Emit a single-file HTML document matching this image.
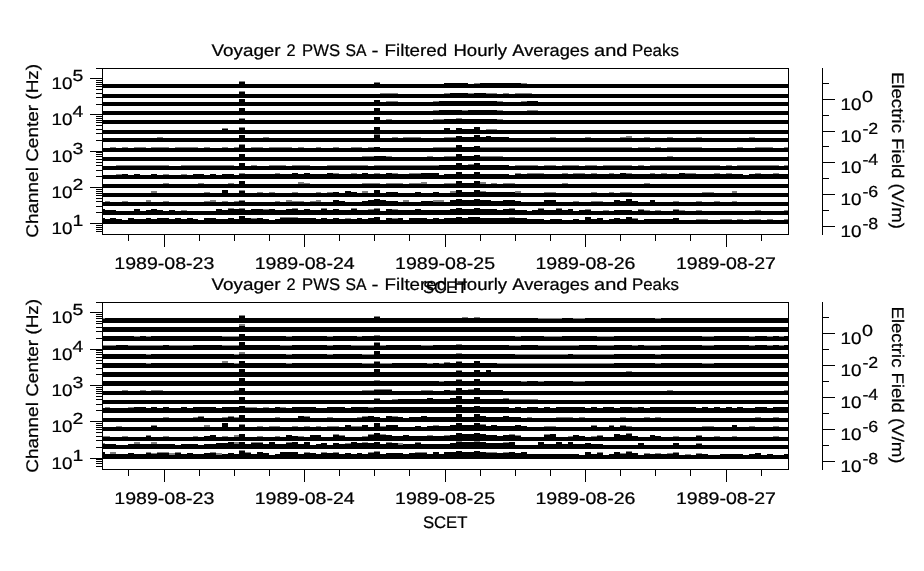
<!DOCTYPE html>
<html><head><meta charset="utf-8"><title>Voyager 2 PWS SA</title>
<style>
html,body{margin:0;padding:0;background:#fff;}
svg{display:block;font-family:"Liberation Sans",sans-serif;will-change:transform;}
text{fill:#000;stroke:#000;stroke-width:0.24px;}
</style></head>
<body>
<svg width="924" height="571" viewBox="0 0 924 571" shape-rendering="crispEdges" text-rendering="geometricPrecision">
<rect x="0" y="0" width="924" height="571" fill="#fff"/>
<rect x="96" y="68" width="693" height="1" fill="#000"/>
<rect x="102" y="234" width="687" height="1" fill="#000"/>
<rect x="102" y="68" width="1" height="167" fill="#000"/>
<rect x="788" y="68" width="1" height="167" fill="#000"/>
<rect x="90" y="223" width="12" height="1" fill="#000"/>
<rect x="90" y="187" width="12" height="1" fill="#000"/>
<rect x="90" y="151" width="12" height="1" fill="#000"/>
<rect x="90" y="114" width="12" height="1" fill="#000"/>
<rect x="90" y="78" width="12" height="1" fill="#000"/>
<rect x="96" y="231" width="6" height="1" fill="#000"/>
<rect x="96" y="229" width="6" height="1" fill="#000"/>
<rect x="96" y="227" width="6" height="1" fill="#000"/>
<rect x="96" y="225" width="6" height="1" fill="#000"/>
<rect x="96" y="212" width="6" height="1" fill="#000"/>
<rect x="96" y="206" width="6" height="1" fill="#000"/>
<rect x="96" y="201" width="6" height="1" fill="#000"/>
<rect x="96" y="198" width="6" height="1" fill="#000"/>
<rect x="96" y="195" width="6" height="1" fill="#000"/>
<rect x="96" y="193" width="6" height="1" fill="#000"/>
<rect x="96" y="191" width="6" height="1" fill="#000"/>
<rect x="96" y="189" width="6" height="1" fill="#000"/>
<rect x="96" y="176" width="6" height="1" fill="#000"/>
<rect x="96" y="170" width="6" height="1" fill="#000"/>
<rect x="96" y="165" width="6" height="1" fill="#000"/>
<rect x="96" y="162" width="6" height="1" fill="#000"/>
<rect x="96" y="159" width="6" height="1" fill="#000"/>
<rect x="96" y="156" width="6" height="1" fill="#000"/>
<rect x="96" y="154" width="6" height="1" fill="#000"/>
<rect x="96" y="152" width="6" height="1" fill="#000"/>
<rect x="96" y="140" width="6" height="1" fill="#000"/>
<rect x="96" y="133" width="6" height="1" fill="#000"/>
<rect x="96" y="129" width="6" height="1" fill="#000"/>
<rect x="96" y="125" width="6" height="1" fill="#000"/>
<rect x="96" y="122" width="6" height="1" fill="#000"/>
<rect x="96" y="120" width="6" height="1" fill="#000"/>
<rect x="96" y="118" width="6" height="1" fill="#000"/>
<rect x="96" y="116" width="6" height="1" fill="#000"/>
<rect x="96" y="104" width="6" height="1" fill="#000"/>
<rect x="96" y="97" width="6" height="1" fill="#000"/>
<rect x="96" y="93" width="6" height="1" fill="#000"/>
<rect x="96" y="89" width="6" height="1" fill="#000"/>
<rect x="96" y="86" width="6" height="1" fill="#000"/>
<rect x="96" y="84" width="6" height="1" fill="#000"/>
<rect x="96" y="82" width="6" height="1" fill="#000"/>
<rect x="96" y="80" width="6" height="1" fill="#000"/>
<rect x="128" y="234" width="1" height="7" fill="#000"/>
<rect x="164" y="234" width="1" height="13" fill="#000"/>
<rect x="199" y="234" width="1" height="7" fill="#000"/>
<rect x="234" y="234" width="1" height="7" fill="#000"/>
<rect x="269" y="234" width="1" height="7" fill="#000"/>
<rect x="304" y="234" width="1" height="13" fill="#000"/>
<rect x="339" y="234" width="1" height="7" fill="#000"/>
<rect x="374" y="234" width="1" height="7" fill="#000"/>
<rect x="409" y="234" width="1" height="7" fill="#000"/>
<rect x="445" y="234" width="1" height="13" fill="#000"/>
<rect x="480" y="234" width="1" height="7" fill="#000"/>
<rect x="515" y="234" width="1" height="7" fill="#000"/>
<rect x="550" y="234" width="1" height="7" fill="#000"/>
<rect x="585" y="234" width="1" height="13" fill="#000"/>
<rect x="620" y="234" width="1" height="7" fill="#000"/>
<rect x="655" y="234" width="1" height="7" fill="#000"/>
<rect x="690" y="234" width="1" height="7" fill="#000"/>
<rect x="726" y="234" width="1" height="13" fill="#000"/>
<rect x="761" y="234" width="1" height="7" fill="#000"/>
<rect x="103" y="84" width="685" height="4" fill="#000"/>
<rect x="103" y="94" width="685" height="4" fill="#000"/>
<rect x="103" y="102" width="685" height="4" fill="#000"/>
<rect x="103" y="111" width="685" height="4" fill="#000"/>
<rect x="103" y="120" width="685" height="4" fill="#000"/>
<rect x="103" y="130" width="685" height="4" fill="#000"/>
<rect x="103" y="138" width="685" height="4" fill="#000"/>
<rect x="103" y="148" width="685" height="4" fill="#000"/>
<rect x="103" y="157" width="685" height="4" fill="#000"/>
<rect x="103" y="166" width="685" height="4" fill="#000"/>
<rect x="103" y="175" width="685" height="4" fill="#000"/>
<rect x="103" y="184" width="685" height="4" fill="#000"/>
<rect x="103" y="193" width="685" height="4" fill="#000"/>
<rect x="103" y="202" width="685" height="4" fill="#000"/>
<rect x="103" y="211" width="685" height="4" fill="#000"/>
<rect x="103" y="220" width="685" height="4" fill="#000"/>
<rect x="239" y="81" width="6" height="1" fill="#808080"/>
<rect x="239" y="82" width="6" height="2" fill="#000"/>
<rect x="374" y="82" width="6" height="1" fill="#808080"/>
<rect x="374" y="83" width="6" height="1" fill="#000"/>
<rect x="444" y="83" width="24" height="1" fill="#000"/>
<rect x="474" y="83" width="6" height="1" fill="#808080"/>
<rect x="480" y="83" width="41" height="1" fill="#000"/>
<rect x="521" y="83" width="6" height="1" fill="#808080"/>
<rect x="239" y="91" width="6" height="1" fill="#808080"/>
<rect x="239" y="92" width="6" height="2" fill="#000"/>
<rect x="380" y="93" width="18" height="1" fill="#808080"/>
<rect x="444" y="93" width="6" height="1" fill="#808080"/>
<rect x="450" y="93" width="18" height="1" fill="#000"/>
<rect x="468" y="93" width="6" height="1" fill="#808080"/>
<rect x="474" y="93" width="12" height="1" fill="#000"/>
<rect x="486" y="93" width="11" height="1" fill="#808080"/>
<rect x="503" y="93" width="6" height="1" fill="#808080"/>
<rect x="515" y="93" width="17" height="1" fill="#808080"/>
<rect x="239" y="99" width="6" height="3" fill="#000"/>
<rect x="374" y="100" width="6" height="2" fill="#000"/>
<rect x="386" y="101" width="12" height="1" fill="#808080"/>
<rect x="433" y="101" width="6" height="1" fill="#808080"/>
<rect x="439" y="101" width="58" height="1" fill="#000"/>
<rect x="497" y="101" width="6" height="1" fill="#808080"/>
<rect x="521" y="101" width="6" height="1" fill="#808080"/>
<rect x="527" y="101" width="11" height="1" fill="#000"/>
<rect x="239" y="108" width="6" height="3" fill="#000"/>
<rect x="374" y="108" width="6" height="3" fill="#000"/>
<rect x="433" y="110" width="6" height="1" fill="#808080"/>
<rect x="439" y="110" width="23" height="1" fill="#000"/>
<rect x="462" y="110" width="6" height="1" fill="#808080"/>
<rect x="468" y="110" width="29" height="1" fill="#000"/>
<rect x="497" y="110" width="6" height="1" fill="#808080"/>
<rect x="527" y="110" width="11" height="1" fill="#808080"/>
<rect x="239" y="118" width="6" height="1" fill="#808080"/>
<rect x="239" y="119" width="6" height="1" fill="#000"/>
<rect x="374" y="117" width="6" height="3" fill="#000"/>
<rect x="386" y="119" width="6" height="1" fill="#808080"/>
<rect x="433" y="119" width="11" height="1" fill="#808080"/>
<rect x="444" y="119" width="12" height="1" fill="#000"/>
<rect x="456" y="118" width="6" height="1" fill="#808080"/>
<rect x="456" y="119" width="6" height="1" fill="#000"/>
<rect x="462" y="119" width="35" height="1" fill="#000"/>
<rect x="497" y="119" width="6" height="1" fill="#808080"/>
<rect x="222" y="128" width="6" height="1" fill="#808080"/>
<rect x="222" y="129" width="6" height="1" fill="#000"/>
<rect x="239" y="127" width="6" height="1" fill="#808080"/>
<rect x="239" y="128" width="6" height="2" fill="#000"/>
<rect x="374" y="127" width="6" height="3" fill="#000"/>
<rect x="444" y="128" width="6" height="2" fill="#000"/>
<rect x="456" y="128" width="6" height="2" fill="#000"/>
<rect x="462" y="129" width="12" height="1" fill="#000"/>
<rect x="474" y="127" width="6" height="3" fill="#000"/>
<rect x="486" y="129" width="11" height="1" fill="#808080"/>
<rect x="157" y="137" width="6" height="1" fill="#808080"/>
<rect x="239" y="135" width="6" height="3" fill="#000"/>
<rect x="263" y="137" width="6" height="1" fill="#808080"/>
<rect x="374" y="134" width="6" height="1" fill="#808080"/>
<rect x="374" y="135" width="6" height="3" fill="#000"/>
<rect x="392" y="137" width="6" height="1" fill="#808080"/>
<rect x="403" y="137" width="18" height="1" fill="#808080"/>
<rect x="444" y="137" width="12" height="1" fill="#808080"/>
<rect x="456" y="136" width="6" height="2" fill="#000"/>
<rect x="462" y="137" width="12" height="1" fill="#000"/>
<rect x="474" y="135" width="6" height="3" fill="#000"/>
<rect x="480" y="137" width="6" height="1" fill="#000"/>
<rect x="486" y="136" width="5" height="2" fill="#000"/>
<rect x="491" y="137" width="18" height="1" fill="#000"/>
<rect x="550" y="137" width="6" height="1" fill="#808080"/>
<rect x="585" y="137" width="6" height="1" fill="#808080"/>
<rect x="620" y="137" width="6" height="1" fill="#808080"/>
<rect x="626" y="136" width="6" height="2" fill="#808080"/>
<rect x="644" y="137" width="6" height="1" fill="#808080"/>
<rect x="667" y="137" width="6" height="1" fill="#808080"/>
<rect x="696" y="137" width="6" height="1" fill="#808080"/>
<rect x="749" y="137" width="6" height="1" fill="#808080"/>
<rect x="110" y="147" width="6" height="1" fill="#808080"/>
<rect x="122" y="147" width="6" height="1" fill="#808080"/>
<rect x="134" y="147" width="12" height="1" fill="#808080"/>
<rect x="151" y="147" width="18" height="1" fill="#808080"/>
<rect x="175" y="147" width="23" height="1" fill="#808080"/>
<rect x="204" y="147" width="6" height="1" fill="#808080"/>
<rect x="222" y="147" width="6" height="1" fill="#808080"/>
<rect x="234" y="147" width="5" height="1" fill="#808080"/>
<rect x="239" y="144" width="6" height="1" fill="#808080"/>
<rect x="239" y="145" width="6" height="3" fill="#000"/>
<rect x="251" y="147" width="12" height="1" fill="#808080"/>
<rect x="269" y="147" width="23" height="1" fill="#808080"/>
<rect x="298" y="147" width="6" height="1" fill="#808080"/>
<rect x="316" y="147" width="5" height="1" fill="#808080"/>
<rect x="333" y="147" width="6" height="1" fill="#808080"/>
<rect x="351" y="147" width="11" height="1" fill="#808080"/>
<rect x="368" y="147" width="6" height="1" fill="#808080"/>
<rect x="374" y="147" width="6" height="1" fill="#000"/>
<rect x="433" y="147" width="23" height="1" fill="#808080"/>
<rect x="456" y="145" width="6" height="3" fill="#000"/>
<rect x="462" y="147" width="12" height="1" fill="#000"/>
<rect x="474" y="146" width="6" height="2" fill="#000"/>
<rect x="480" y="147" width="152" height="1" fill="#808080"/>
<rect x="638" y="147" width="12" height="1" fill="#808080"/>
<rect x="655" y="147" width="6" height="1" fill="#808080"/>
<rect x="667" y="147" width="35" height="1" fill="#808080"/>
<rect x="737" y="147" width="6" height="1" fill="#808080"/>
<rect x="755" y="147" width="18" height="1" fill="#808080"/>
<rect x="784" y="147" width="4" height="1" fill="#808080"/>
<rect x="239" y="154" width="6" height="3" fill="#000"/>
<rect x="362" y="156" width="12" height="1" fill="#808080"/>
<rect x="374" y="156" width="12" height="1" fill="#000"/>
<rect x="386" y="156" width="6" height="1" fill="#808080"/>
<rect x="427" y="156" width="6" height="1" fill="#808080"/>
<rect x="444" y="156" width="12" height="1" fill="#808080"/>
<rect x="456" y="154" width="6" height="3" fill="#000"/>
<rect x="462" y="156" width="12" height="1" fill="#000"/>
<rect x="474" y="155" width="6" height="2" fill="#000"/>
<rect x="480" y="156" width="23" height="1" fill="#808080"/>
<rect x="667" y="156" width="6" height="1" fill="#808080"/>
<rect x="116" y="165" width="53" height="1" fill="#808080"/>
<rect x="181" y="165" width="53" height="1" fill="#808080"/>
<rect x="239" y="163" width="6" height="3" fill="#000"/>
<rect x="251" y="165" width="6" height="1" fill="#808080"/>
<rect x="269" y="165" width="17" height="1" fill="#808080"/>
<rect x="292" y="165" width="18" height="1" fill="#808080"/>
<rect x="327" y="165" width="41" height="1" fill="#808080"/>
<rect x="374" y="165" width="65" height="1" fill="#808080"/>
<rect x="439" y="165" width="17" height="1" fill="#000"/>
<rect x="456" y="163" width="6" height="3" fill="#000"/>
<rect x="462" y="165" width="6" height="1" fill="#000"/>
<rect x="468" y="164" width="6" height="1" fill="#808080"/>
<rect x="468" y="165" width="6" height="1" fill="#000"/>
<rect x="474" y="163" width="6" height="3" fill="#000"/>
<rect x="480" y="165" width="29" height="1" fill="#000"/>
<rect x="515" y="165" width="23" height="1" fill="#808080"/>
<rect x="544" y="165" width="12" height="1" fill="#808080"/>
<rect x="562" y="165" width="17" height="1" fill="#808080"/>
<rect x="585" y="165" width="12" height="1" fill="#808080"/>
<rect x="603" y="165" width="29" height="1" fill="#808080"/>
<rect x="638" y="165" width="6" height="1" fill="#808080"/>
<rect x="650" y="165" width="70" height="1" fill="#808080"/>
<rect x="726" y="165" width="6" height="1" fill="#808080"/>
<rect x="737" y="165" width="42" height="1" fill="#808080"/>
<rect x="784" y="165" width="4" height="1" fill="#808080"/>
<rect x="116" y="174" width="6" height="1" fill="#808080"/>
<rect x="122" y="174" width="6" height="1" fill="#000"/>
<rect x="134" y="174" width="6" height="1" fill="#000"/>
<rect x="151" y="174" width="6" height="1" fill="#000"/>
<rect x="163" y="174" width="6" height="1" fill="#808080"/>
<rect x="181" y="174" width="6" height="1" fill="#808080"/>
<rect x="193" y="174" width="11" height="1" fill="#000"/>
<rect x="210" y="174" width="6" height="1" fill="#000"/>
<rect x="222" y="174" width="12" height="1" fill="#000"/>
<rect x="239" y="173" width="6" height="1" fill="#808080"/>
<rect x="239" y="174" width="6" height="1" fill="#000"/>
<rect x="245" y="174" width="30" height="1" fill="#000"/>
<rect x="275" y="173" width="5" height="1" fill="#808080"/>
<rect x="275" y="174" width="5" height="1" fill="#000"/>
<rect x="280" y="174" width="12" height="1" fill="#000"/>
<rect x="292" y="173" width="6" height="2" fill="#000"/>
<rect x="298" y="174" width="6" height="1" fill="#000"/>
<rect x="304" y="173" width="6" height="2" fill="#000"/>
<rect x="310" y="174" width="17" height="1" fill="#000"/>
<rect x="327" y="173" width="6" height="2" fill="#000"/>
<rect x="333" y="173" width="6" height="1" fill="#808080"/>
<rect x="333" y="174" width="6" height="1" fill="#000"/>
<rect x="339" y="174" width="12" height="1" fill="#000"/>
<rect x="351" y="173" width="6" height="1" fill="#808080"/>
<rect x="351" y="174" width="6" height="1" fill="#000"/>
<rect x="357" y="174" width="5" height="1" fill="#000"/>
<rect x="362" y="173" width="6" height="2" fill="#000"/>
<rect x="368" y="174" width="6" height="1" fill="#000"/>
<rect x="374" y="173" width="6" height="1" fill="#808080"/>
<rect x="374" y="174" width="6" height="1" fill="#000"/>
<rect x="380" y="174" width="6" height="1" fill="#000"/>
<rect x="386" y="173" width="6" height="2" fill="#000"/>
<rect x="392" y="173" width="6" height="1" fill="#808080"/>
<rect x="392" y="174" width="6" height="1" fill="#000"/>
<rect x="398" y="174" width="11" height="1" fill="#000"/>
<rect x="409" y="173" width="12" height="1" fill="#808080"/>
<rect x="409" y="174" width="12" height="1" fill="#000"/>
<rect x="421" y="173" width="18" height="2" fill="#000"/>
<rect x="444" y="174" width="12" height="1" fill="#000"/>
<rect x="456" y="172" width="6" height="3" fill="#000"/>
<rect x="462" y="174" width="12" height="1" fill="#000"/>
<rect x="474" y="172" width="6" height="3" fill="#000"/>
<rect x="480" y="174" width="29" height="1" fill="#000"/>
<rect x="515" y="173" width="6" height="1" fill="#808080"/>
<rect x="515" y="174" width="6" height="1" fill="#000"/>
<rect x="521" y="174" width="6" height="1" fill="#000"/>
<rect x="527" y="173" width="17" height="1" fill="#808080"/>
<rect x="527" y="174" width="17" height="1" fill="#000"/>
<rect x="544" y="174" width="18" height="1" fill="#000"/>
<rect x="562" y="173" width="6" height="1" fill="#808080"/>
<rect x="562" y="174" width="6" height="1" fill="#000"/>
<rect x="568" y="174" width="5" height="1" fill="#000"/>
<rect x="573" y="173" width="12" height="1" fill="#808080"/>
<rect x="573" y="174" width="12" height="1" fill="#000"/>
<rect x="585" y="174" width="6" height="1" fill="#000"/>
<rect x="591" y="173" width="6" height="1" fill="#808080"/>
<rect x="591" y="174" width="6" height="1" fill="#000"/>
<rect x="597" y="174" width="12" height="1" fill="#000"/>
<rect x="609" y="173" width="5" height="1" fill="#808080"/>
<rect x="609" y="174" width="5" height="1" fill="#000"/>
<rect x="614" y="174" width="6" height="1" fill="#000"/>
<rect x="620" y="173" width="6" height="2" fill="#000"/>
<rect x="626" y="173" width="6" height="1" fill="#808080"/>
<rect x="626" y="174" width="6" height="1" fill="#000"/>
<rect x="632" y="174" width="18" height="1" fill="#000"/>
<rect x="650" y="173" width="5" height="1" fill="#808080"/>
<rect x="650" y="174" width="5" height="1" fill="#000"/>
<rect x="655" y="174" width="6" height="1" fill="#000"/>
<rect x="661" y="173" width="6" height="1" fill="#808080"/>
<rect x="661" y="174" width="6" height="1" fill="#000"/>
<rect x="667" y="174" width="12" height="1" fill="#000"/>
<rect x="679" y="173" width="6" height="2" fill="#000"/>
<rect x="685" y="173" width="11" height="1" fill="#808080"/>
<rect x="685" y="174" width="11" height="1" fill="#000"/>
<rect x="696" y="174" width="18" height="1" fill="#000"/>
<rect x="714" y="173" width="6" height="1" fill="#808080"/>
<rect x="714" y="174" width="6" height="1" fill="#000"/>
<rect x="720" y="174" width="6" height="1" fill="#000"/>
<rect x="726" y="173" width="6" height="1" fill="#808080"/>
<rect x="726" y="174" width="6" height="1" fill="#000"/>
<rect x="732" y="174" width="11" height="1" fill="#000"/>
<rect x="749" y="174" width="6" height="1" fill="#000"/>
<rect x="755" y="173" width="6" height="1" fill="#808080"/>
<rect x="755" y="174" width="6" height="1" fill="#000"/>
<rect x="761" y="174" width="12" height="1" fill="#000"/>
<rect x="773" y="173" width="6" height="1" fill="#808080"/>
<rect x="773" y="174" width="6" height="1" fill="#000"/>
<rect x="779" y="174" width="9" height="1" fill="#000"/>
<rect x="163" y="183" width="6" height="1" fill="#808080"/>
<rect x="198" y="183" width="6" height="1" fill="#808080"/>
<rect x="228" y="183" width="6" height="1" fill="#808080"/>
<rect x="239" y="181" width="6" height="3" fill="#000"/>
<rect x="298" y="182" width="6" height="2" fill="#808080"/>
<rect x="304" y="183" width="6" height="1" fill="#808080"/>
<rect x="362" y="183" width="18" height="1" fill="#808080"/>
<rect x="386" y="183" width="17" height="1" fill="#808080"/>
<rect x="409" y="183" width="12" height="1" fill="#808080"/>
<rect x="421" y="182" width="6" height="2" fill="#808080"/>
<rect x="444" y="183" width="12" height="1" fill="#808080"/>
<rect x="456" y="181" width="6" height="3" fill="#000"/>
<rect x="462" y="183" width="12" height="1" fill="#000"/>
<rect x="474" y="181" width="6" height="3" fill="#000"/>
<rect x="480" y="182" width="6" height="2" fill="#808080"/>
<rect x="491" y="183" width="6" height="1" fill="#808080"/>
<rect x="503" y="183" width="12" height="1" fill="#808080"/>
<rect x="562" y="183" width="6" height="1" fill="#808080"/>
<rect x="644" y="183" width="6" height="1" fill="#808080"/>
<rect x="151" y="191" width="6" height="2" fill="#808080"/>
<rect x="204" y="192" width="6" height="1" fill="#808080"/>
<rect x="222" y="190" width="6" height="3" fill="#000"/>
<rect x="239" y="190" width="6" height="1" fill="#808080"/>
<rect x="239" y="191" width="6" height="2" fill="#000"/>
<rect x="257" y="192" width="6" height="1" fill="#808080"/>
<rect x="269" y="192" width="6" height="1" fill="#808080"/>
<rect x="292" y="192" width="6" height="1" fill="#808080"/>
<rect x="316" y="192" width="5" height="1" fill="#808080"/>
<rect x="327" y="192" width="6" height="1" fill="#808080"/>
<rect x="333" y="192" width="6" height="1" fill="#000"/>
<rect x="345" y="191" width="6" height="2" fill="#000"/>
<rect x="351" y="192" width="6" height="1" fill="#000"/>
<rect x="362" y="191" width="6" height="2" fill="#808080"/>
<rect x="374" y="190" width="6" height="3" fill="#000"/>
<rect x="386" y="192" width="12" height="1" fill="#000"/>
<rect x="415" y="192" width="6" height="1" fill="#000"/>
<rect x="433" y="192" width="6" height="1" fill="#000"/>
<rect x="450" y="191" width="6" height="2" fill="#808080"/>
<rect x="456" y="190" width="6" height="3" fill="#000"/>
<rect x="462" y="192" width="12" height="1" fill="#000"/>
<rect x="474" y="190" width="6" height="3" fill="#000"/>
<rect x="480" y="191" width="6" height="1" fill="#808080"/>
<rect x="480" y="192" width="6" height="1" fill="#000"/>
<rect x="486" y="192" width="29" height="1" fill="#000"/>
<rect x="515" y="191" width="6" height="2" fill="#808080"/>
<rect x="544" y="192" width="12" height="1" fill="#808080"/>
<rect x="591" y="192" width="6" height="1" fill="#808080"/>
<rect x="609" y="192" width="5" height="1" fill="#808080"/>
<rect x="620" y="192" width="12" height="1" fill="#808080"/>
<rect x="702" y="192" width="12" height="1" fill="#808080"/>
<rect x="732" y="191" width="5" height="2" fill="#808080"/>
<rect x="105" y="201" width="5" height="1" fill="#808080"/>
<rect x="122" y="201" width="6" height="1" fill="#808080"/>
<rect x="146" y="200" width="5" height="2" fill="#808080"/>
<rect x="163" y="201" width="6" height="1" fill="#808080"/>
<rect x="204" y="201" width="6" height="1" fill="#808080"/>
<rect x="210" y="200" width="6" height="2" fill="#808080"/>
<rect x="222" y="201" width="6" height="1" fill="#808080"/>
<rect x="234" y="201" width="5" height="1" fill="#808080"/>
<rect x="239" y="200" width="6" height="1" fill="#808080"/>
<rect x="239" y="201" width="6" height="1" fill="#000"/>
<rect x="275" y="201" width="5" height="1" fill="#808080"/>
<rect x="286" y="200" width="6" height="2" fill="#808080"/>
<rect x="292" y="201" width="12" height="1" fill="#808080"/>
<rect x="310" y="201" width="6" height="1" fill="#808080"/>
<rect x="316" y="200" width="5" height="2" fill="#808080"/>
<rect x="333" y="200" width="6" height="2" fill="#000"/>
<rect x="339" y="201" width="6" height="1" fill="#000"/>
<rect x="362" y="201" width="6" height="1" fill="#000"/>
<rect x="368" y="200" width="6" height="2" fill="#000"/>
<rect x="374" y="199" width="6" height="3" fill="#000"/>
<rect x="380" y="200" width="6" height="2" fill="#000"/>
<rect x="386" y="201" width="12" height="1" fill="#000"/>
<rect x="403" y="200" width="6" height="2" fill="#808080"/>
<rect x="421" y="201" width="12" height="1" fill="#000"/>
<rect x="433" y="200" width="11" height="2" fill="#808080"/>
<rect x="450" y="200" width="6" height="2" fill="#000"/>
<rect x="456" y="199" width="6" height="3" fill="#000"/>
<rect x="462" y="200" width="12" height="2" fill="#000"/>
<rect x="474" y="199" width="6" height="3" fill="#000"/>
<rect x="480" y="200" width="11" height="2" fill="#000"/>
<rect x="491" y="201" width="12" height="1" fill="#000"/>
<rect x="503" y="200" width="12" height="2" fill="#000"/>
<rect x="515" y="201" width="6" height="1" fill="#000"/>
<rect x="544" y="200" width="12" height="2" fill="#000"/>
<rect x="573" y="201" width="6" height="1" fill="#808080"/>
<rect x="591" y="201" width="12" height="1" fill="#808080"/>
<rect x="614" y="200" width="6" height="2" fill="#000"/>
<rect x="620" y="201" width="6" height="1" fill="#000"/>
<rect x="626" y="199" width="6" height="3" fill="#000"/>
<rect x="632" y="201" width="6" height="1" fill="#000"/>
<rect x="650" y="200" width="5" height="2" fill="#000"/>
<rect x="673" y="201" width="6" height="1" fill="#808080"/>
<rect x="696" y="201" width="6" height="1" fill="#808080"/>
<rect x="714" y="201" width="6" height="1" fill="#808080"/>
<rect x="732" y="201" width="5" height="1" fill="#808080"/>
<rect x="103" y="209" width="2" height="2" fill="#000"/>
<rect x="105" y="210" width="11" height="1" fill="#000"/>
<rect x="134" y="209" width="6" height="2" fill="#000"/>
<rect x="146" y="210" width="5" height="1" fill="#000"/>
<rect x="151" y="209" width="6" height="2" fill="#000"/>
<rect x="157" y="210" width="6" height="1" fill="#000"/>
<rect x="169" y="210" width="6" height="1" fill="#000"/>
<rect x="181" y="210" width="6" height="1" fill="#808080"/>
<rect x="216" y="209" width="6" height="2" fill="#000"/>
<rect x="222" y="210" width="6" height="1" fill="#000"/>
<rect x="228" y="208" width="6" height="1" fill="#808080"/>
<rect x="228" y="209" width="6" height="2" fill="#000"/>
<rect x="234" y="209" width="5" height="2" fill="#000"/>
<rect x="239" y="208" width="6" height="1" fill="#808080"/>
<rect x="239" y="209" width="6" height="2" fill="#000"/>
<rect x="245" y="210" width="6" height="1" fill="#000"/>
<rect x="251" y="209" width="12" height="2" fill="#000"/>
<rect x="263" y="209" width="6" height="1" fill="#808080"/>
<rect x="263" y="210" width="6" height="1" fill="#000"/>
<rect x="269" y="209" width="6" height="2" fill="#000"/>
<rect x="275" y="210" width="11" height="1" fill="#000"/>
<rect x="286" y="209" width="6" height="2" fill="#000"/>
<rect x="292" y="208" width="6" height="1" fill="#808080"/>
<rect x="292" y="209" width="6" height="2" fill="#000"/>
<rect x="298" y="210" width="6" height="1" fill="#000"/>
<rect x="304" y="209" width="6" height="2" fill="#000"/>
<rect x="310" y="210" width="11" height="1" fill="#000"/>
<rect x="321" y="208" width="6" height="1" fill="#808080"/>
<rect x="321" y="209" width="6" height="2" fill="#000"/>
<rect x="327" y="210" width="6" height="1" fill="#000"/>
<rect x="333" y="209" width="6" height="2" fill="#000"/>
<rect x="339" y="210" width="12" height="1" fill="#000"/>
<rect x="351" y="208" width="6" height="1" fill="#808080"/>
<rect x="351" y="209" width="6" height="2" fill="#000"/>
<rect x="357" y="210" width="11" height="1" fill="#000"/>
<rect x="368" y="209" width="6" height="1" fill="#808080"/>
<rect x="368" y="210" width="6" height="1" fill="#000"/>
<rect x="374" y="208" width="6" height="1" fill="#808080"/>
<rect x="374" y="209" width="6" height="2" fill="#000"/>
<rect x="386" y="209" width="6" height="2" fill="#000"/>
<rect x="392" y="209" width="6" height="1" fill="#808080"/>
<rect x="392" y="210" width="6" height="1" fill="#000"/>
<rect x="398" y="210" width="17" height="1" fill="#000"/>
<rect x="415" y="209" width="6" height="2" fill="#000"/>
<rect x="421" y="210" width="29" height="1" fill="#000"/>
<rect x="450" y="209" width="6" height="2" fill="#000"/>
<rect x="456" y="208" width="6" height="3" fill="#000"/>
<rect x="462" y="209" width="12" height="2" fill="#000"/>
<rect x="474" y="208" width="6" height="3" fill="#000"/>
<rect x="480" y="209" width="17" height="2" fill="#000"/>
<rect x="497" y="210" width="6" height="1" fill="#000"/>
<rect x="503" y="209" width="6" height="2" fill="#000"/>
<rect x="509" y="208" width="6" height="1" fill="#808080"/>
<rect x="509" y="209" width="6" height="2" fill="#000"/>
<rect x="515" y="210" width="12" height="1" fill="#000"/>
<rect x="532" y="210" width="6" height="1" fill="#000"/>
<rect x="538" y="208" width="6" height="1" fill="#808080"/>
<rect x="538" y="209" width="6" height="2" fill="#000"/>
<rect x="544" y="210" width="12" height="1" fill="#000"/>
<rect x="556" y="208" width="6" height="1" fill="#808080"/>
<rect x="556" y="209" width="6" height="2" fill="#000"/>
<rect x="562" y="210" width="6" height="1" fill="#000"/>
<rect x="568" y="209" width="5" height="2" fill="#000"/>
<rect x="579" y="210" width="6" height="1" fill="#000"/>
<rect x="585" y="209" width="6" height="1" fill="#808080"/>
<rect x="585" y="210" width="6" height="1" fill="#000"/>
<rect x="603" y="210" width="6" height="1" fill="#808080"/>
<rect x="614" y="210" width="18" height="1" fill="#000"/>
<rect x="638" y="209" width="6" height="1" fill="#808080"/>
<rect x="638" y="210" width="6" height="1" fill="#000"/>
<rect x="644" y="210" width="6" height="1" fill="#808080"/>
<rect x="655" y="210" width="6" height="1" fill="#808080"/>
<rect x="673" y="209" width="6" height="1" fill="#808080"/>
<rect x="673" y="210" width="6" height="1" fill="#000"/>
<rect x="679" y="210" width="6" height="1" fill="#808080"/>
<rect x="696" y="210" width="6" height="1" fill="#808080"/>
<rect x="755" y="210" width="6" height="1" fill="#808080"/>
<rect x="784" y="210" width="4" height="1" fill="#808080"/>
<rect x="103" y="218" width="2" height="2" fill="#000"/>
<rect x="105" y="219" width="5" height="1" fill="#000"/>
<rect x="110" y="218" width="6" height="2" fill="#000"/>
<rect x="116" y="219" width="6" height="1" fill="#000"/>
<rect x="128" y="218" width="6" height="2" fill="#000"/>
<rect x="134" y="219" width="12" height="1" fill="#000"/>
<rect x="146" y="218" width="5" height="2" fill="#000"/>
<rect x="151" y="219" width="6" height="1" fill="#000"/>
<rect x="157" y="218" width="12" height="2" fill="#000"/>
<rect x="169" y="219" width="6" height="1" fill="#000"/>
<rect x="175" y="218" width="6" height="2" fill="#000"/>
<rect x="181" y="219" width="6" height="1" fill="#000"/>
<rect x="187" y="218" width="6" height="2" fill="#000"/>
<rect x="193" y="219" width="5" height="1" fill="#000"/>
<rect x="204" y="218" width="12" height="2" fill="#000"/>
<rect x="216" y="219" width="12" height="1" fill="#000"/>
<rect x="228" y="218" width="6" height="2" fill="#000"/>
<rect x="234" y="219" width="5" height="1" fill="#000"/>
<rect x="239" y="216" width="6" height="4" fill="#000"/>
<rect x="245" y="218" width="6" height="2" fill="#000"/>
<rect x="251" y="218" width="6" height="1" fill="#808080"/>
<rect x="251" y="219" width="6" height="1" fill="#000"/>
<rect x="257" y="218" width="6" height="2" fill="#000"/>
<rect x="263" y="219" width="6" height="1" fill="#000"/>
<rect x="275" y="219" width="5" height="1" fill="#000"/>
<rect x="280" y="217" width="18" height="1" fill="#808080"/>
<rect x="280" y="218" width="18" height="2" fill="#000"/>
<rect x="298" y="218" width="18" height="2" fill="#000"/>
<rect x="316" y="219" width="5" height="1" fill="#000"/>
<rect x="321" y="218" width="6" height="2" fill="#000"/>
<rect x="327" y="219" width="6" height="1" fill="#000"/>
<rect x="333" y="218" width="6" height="2" fill="#000"/>
<rect x="339" y="219" width="6" height="1" fill="#000"/>
<rect x="345" y="218" width="6" height="1" fill="#808080"/>
<rect x="345" y="219" width="6" height="1" fill="#000"/>
<rect x="351" y="219" width="6" height="1" fill="#000"/>
<rect x="357" y="218" width="5" height="2" fill="#000"/>
<rect x="362" y="219" width="6" height="1" fill="#000"/>
<rect x="368" y="218" width="6" height="2" fill="#000"/>
<rect x="374" y="217" width="6" height="3" fill="#000"/>
<rect x="386" y="218" width="6" height="2" fill="#000"/>
<rect x="392" y="218" width="6" height="1" fill="#808080"/>
<rect x="392" y="219" width="6" height="1" fill="#000"/>
<rect x="398" y="218" width="5" height="2" fill="#000"/>
<rect x="409" y="218" width="18" height="2" fill="#000"/>
<rect x="427" y="219" width="6" height="1" fill="#000"/>
<rect x="433" y="218" width="6" height="2" fill="#000"/>
<rect x="439" y="219" width="5" height="1" fill="#000"/>
<rect x="444" y="218" width="12" height="2" fill="#000"/>
<rect x="456" y="217" width="6" height="3" fill="#000"/>
<rect x="462" y="218" width="6" height="2" fill="#000"/>
<rect x="468" y="217" width="12" height="3" fill="#000"/>
<rect x="480" y="218" width="29" height="2" fill="#000"/>
<rect x="509" y="217" width="6" height="1" fill="#808080"/>
<rect x="509" y="218" width="6" height="2" fill="#000"/>
<rect x="515" y="218" width="12" height="2" fill="#000"/>
<rect x="527" y="219" width="17" height="1" fill="#000"/>
<rect x="550" y="219" width="12" height="1" fill="#000"/>
<rect x="573" y="219" width="6" height="1" fill="#000"/>
<rect x="585" y="217" width="6" height="3" fill="#000"/>
<rect x="591" y="219" width="6" height="1" fill="#000"/>
<rect x="597" y="218" width="6" height="2" fill="#000"/>
<rect x="609" y="219" width="5" height="1" fill="#000"/>
<rect x="614" y="218" width="6" height="2" fill="#000"/>
<rect x="620" y="219" width="6" height="1" fill="#000"/>
<rect x="626" y="217" width="6" height="3" fill="#000"/>
<rect x="632" y="218" width="6" height="1" fill="#808080"/>
<rect x="632" y="219" width="6" height="1" fill="#000"/>
<rect x="644" y="219" width="29" height="1" fill="#000"/>
<rect x="673" y="218" width="6" height="2" fill="#000"/>
<rect x="696" y="219" width="12" height="1" fill="#808080"/>
<rect x="720" y="219" width="12" height="1" fill="#808080"/>
<rect x="737" y="219" width="6" height="1" fill="#808080"/>
<rect x="749" y="219" width="12" height="1" fill="#808080"/>
<rect x="767" y="219" width="6" height="1" fill="#808080"/>
<rect x="784" y="219" width="4" height="1" fill="#808080"/>
<rect x="822" y="68" width="1" height="167" fill="#000"/>
<rect x="822" y="99" width="13" height="1" fill="#000"/>
<rect x="822" y="131" width="13" height="1" fill="#000"/>
<rect x="822" y="162" width="13" height="1" fill="#000"/>
<rect x="822" y="194" width="13" height="1" fill="#000"/>
<rect x="822" y="226" width="13" height="1" fill="#000"/>
<rect x="822" y="83" width="7" height="1" fill="#000"/>
<rect x="822" y="115" width="7" height="1" fill="#000"/>
<rect x="822" y="146" width="7" height="1" fill="#000"/>
<rect x="822" y="178" width="7" height="1" fill="#000"/>
<rect x="822" y="210" width="7" height="1" fill="#000"/>
<text x="211.5" y="55.8" font-size="16.8" textLength="69.1" lengthAdjust="spacingAndGlyphs">Voyager</text>
<text x="286.4" y="55.8" font-size="16.8" textLength="9.1" lengthAdjust="spacingAndGlyphs">2</text>
<text x="302.1" y="55.8" font-size="16.8" textLength="38.0" lengthAdjust="spacingAndGlyphs">PWS</text>
<text x="345.4" y="55.8" font-size="16.8" textLength="21.0" lengthAdjust="spacingAndGlyphs">SA</text>
<text x="371.6" y="55.8" font-size="16.8" textLength="7.0" lengthAdjust="spacingAndGlyphs">-</text>
<text x="384.6" y="55.8" font-size="16.8" textLength="62.6" lengthAdjust="spacingAndGlyphs">Filtered</text>
<text x="453.4" y="55.8" font-size="16.8" textLength="53.7" lengthAdjust="spacingAndGlyphs">Hourly</text>
<text x="512.3" y="55.8" font-size="16.8" textLength="76.8" lengthAdjust="spacingAndGlyphs">Averages</text>
<text x="594.1" y="55.8" font-size="16.8" textLength="33.4" lengthAdjust="spacingAndGlyphs">and</text>
<text x="631.9" y="55.8" font-size="16.8" textLength="47.0" lengthAdjust="spacingAndGlyphs">Peaks</text>
<text x="51.6" y="233.7" font-size="16.8" textLength="21" lengthAdjust="spacingAndGlyphs">10</text>
<text x="72.4" y="225.6" font-size="16.0" textLength="10.8" lengthAdjust="spacingAndGlyphs">1</text>
<text x="51.6" y="197.7" font-size="16.8" textLength="21" lengthAdjust="spacingAndGlyphs">10</text>
<text x="72.4" y="189.6" font-size="16.0" textLength="10.8" lengthAdjust="spacingAndGlyphs">2</text>
<text x="51.6" y="161.7" font-size="16.8" textLength="21" lengthAdjust="spacingAndGlyphs">10</text>
<text x="72.4" y="153.6" font-size="16.0" textLength="10.8" lengthAdjust="spacingAndGlyphs">3</text>
<text x="51.6" y="124.7" font-size="16.8" textLength="21" lengthAdjust="spacingAndGlyphs">10</text>
<text x="72.4" y="116.6" font-size="16.0" textLength="10.8" lengthAdjust="spacingAndGlyphs">4</text>
<text x="51.6" y="88.7" font-size="16.8" textLength="21" lengthAdjust="spacingAndGlyphs">10</text>
<text x="72.4" y="80.6" font-size="16.0" textLength="10.8" lengthAdjust="spacingAndGlyphs">5</text>
<text x="114.3" y="269" font-size="16.8" textLength="100" lengthAdjust="spacingAndGlyphs">1989-08-23</text>
<text x="254.7" y="269" font-size="16.8" textLength="100" lengthAdjust="spacingAndGlyphs">1989-08-24</text>
<text x="395.1" y="269" font-size="16.8" textLength="100" lengthAdjust="spacingAndGlyphs">1989-08-25</text>
<text x="535.5" y="269" font-size="16.8" textLength="100" lengthAdjust="spacingAndGlyphs">1989-08-26</text>
<text x="675.9" y="269" font-size="16.8" textLength="100" lengthAdjust="spacingAndGlyphs">1989-08-27</text>
<text x="422.9" y="292.7" font-size="16.8" textLength="44.6" lengthAdjust="spacingAndGlyphs">SCET</text>
<text x="840.5" y="109.6" font-size="16.8" textLength="21" lengthAdjust="spacingAndGlyphs">10</text>
<text x="862.0" y="101.6" font-size="16.0" textLength="11" lengthAdjust="spacingAndGlyphs">0</text>
<text x="840.5" y="141.6" font-size="16.8" textLength="21" lengthAdjust="spacingAndGlyphs">10</text>
<text x="862.4" y="133.6" font-size="16.0" textLength="15.8" lengthAdjust="spacingAndGlyphs">-2</text>
<text x="840.5" y="172.6" font-size="16.8" textLength="21" lengthAdjust="spacingAndGlyphs">10</text>
<text x="862.4" y="164.6" font-size="16.0" textLength="15.8" lengthAdjust="spacingAndGlyphs">-4</text>
<text x="840.5" y="204.6" font-size="16.8" textLength="21" lengthAdjust="spacingAndGlyphs">10</text>
<text x="862.4" y="196.6" font-size="16.0" textLength="15.8" lengthAdjust="spacingAndGlyphs">-6</text>
<text x="840.5" y="236.6" font-size="16.8" textLength="21" lengthAdjust="spacingAndGlyphs">10</text>
<text x="862.4" y="228.6" font-size="16.0" textLength="15.8" lengthAdjust="spacingAndGlyphs">-8</text>
<text x="38.1" y="237.8" font-size="16.8" textLength="174" lengthAdjust="spacingAndGlyphs" transform="rotate(-90 38.1 237.8)">Channel Center (Hz)</text>
<text x="892.4" y="72.0" font-size="16.8" textLength="157" lengthAdjust="spacingAndGlyphs" transform="rotate(90 892.4 72.0)">Electric Field (V/m)</text>
<rect x="96" y="302" width="693" height="1" fill="#000"/>
<rect x="102" y="469" width="687" height="1" fill="#000"/>
<rect x="102" y="302" width="1" height="168" fill="#000"/>
<rect x="788" y="302" width="1" height="168" fill="#000"/>
<rect x="90" y="458" width="12" height="1" fill="#000"/>
<rect x="90" y="421" width="12" height="1" fill="#000"/>
<rect x="90" y="385" width="12" height="1" fill="#000"/>
<rect x="90" y="349" width="12" height="1" fill="#000"/>
<rect x="90" y="312" width="12" height="1" fill="#000"/>
<rect x="96" y="466" width="6" height="1" fill="#000"/>
<rect x="96" y="463" width="6" height="1" fill="#000"/>
<rect x="96" y="461" width="6" height="1" fill="#000"/>
<rect x="96" y="459" width="6" height="1" fill="#000"/>
<rect x="96" y="447" width="6" height="1" fill="#000"/>
<rect x="96" y="440" width="6" height="1" fill="#000"/>
<rect x="96" y="436" width="6" height="1" fill="#000"/>
<rect x="96" y="432" width="6" height="1" fill="#000"/>
<rect x="96" y="429" width="6" height="1" fill="#000"/>
<rect x="96" y="427" width="6" height="1" fill="#000"/>
<rect x="96" y="425" width="6" height="1" fill="#000"/>
<rect x="96" y="423" width="6" height="1" fill="#000"/>
<rect x="96" y="410" width="6" height="1" fill="#000"/>
<rect x="96" y="404" width="6" height="1" fill="#000"/>
<rect x="96" y="399" width="6" height="1" fill="#000"/>
<rect x="96" y="396" width="6" height="1" fill="#000"/>
<rect x="96" y="393" width="6" height="1" fill="#000"/>
<rect x="96" y="391" width="6" height="1" fill="#000"/>
<rect x="96" y="389" width="6" height="1" fill="#000"/>
<rect x="96" y="387" width="6" height="1" fill="#000"/>
<rect x="96" y="374" width="6" height="1" fill="#000"/>
<rect x="96" y="368" width="6" height="1" fill="#000"/>
<rect x="96" y="363" width="6" height="1" fill="#000"/>
<rect x="96" y="360" width="6" height="1" fill="#000"/>
<rect x="96" y="357" width="6" height="1" fill="#000"/>
<rect x="96" y="354" width="6" height="1" fill="#000"/>
<rect x="96" y="352" width="6" height="1" fill="#000"/>
<rect x="96" y="350" width="6" height="1" fill="#000"/>
<rect x="96" y="338" width="6" height="1" fill="#000"/>
<rect x="96" y="331" width="6" height="1" fill="#000"/>
<rect x="96" y="327" width="6" height="1" fill="#000"/>
<rect x="96" y="323" width="6" height="1" fill="#000"/>
<rect x="96" y="321" width="6" height="1" fill="#000"/>
<rect x="96" y="318" width="6" height="1" fill="#000"/>
<rect x="96" y="316" width="6" height="1" fill="#000"/>
<rect x="96" y="314" width="6" height="1" fill="#000"/>
<rect x="128" y="469" width="1" height="7" fill="#000"/>
<rect x="164" y="469" width="1" height="13" fill="#000"/>
<rect x="199" y="469" width="1" height="7" fill="#000"/>
<rect x="234" y="469" width="1" height="7" fill="#000"/>
<rect x="269" y="469" width="1" height="7" fill="#000"/>
<rect x="304" y="469" width="1" height="13" fill="#000"/>
<rect x="339" y="469" width="1" height="7" fill="#000"/>
<rect x="374" y="469" width="1" height="7" fill="#000"/>
<rect x="409" y="469" width="1" height="7" fill="#000"/>
<rect x="445" y="469" width="1" height="13" fill="#000"/>
<rect x="480" y="469" width="1" height="7" fill="#000"/>
<rect x="515" y="469" width="1" height="7" fill="#000"/>
<rect x="550" y="469" width="1" height="7" fill="#000"/>
<rect x="585" y="469" width="1" height="13" fill="#000"/>
<rect x="620" y="469" width="1" height="7" fill="#000"/>
<rect x="655" y="469" width="1" height="7" fill="#000"/>
<rect x="690" y="469" width="1" height="7" fill="#000"/>
<rect x="726" y="469" width="1" height="13" fill="#000"/>
<rect x="761" y="469" width="1" height="7" fill="#000"/>
<rect x="103" y="319" width="685" height="4" fill="#000"/>
<rect x="103" y="328" width="685" height="4" fill="#000"/>
<rect x="103" y="337" width="685" height="4" fill="#000"/>
<rect x="103" y="346" width="685" height="4" fill="#000"/>
<rect x="103" y="355" width="685" height="4" fill="#000"/>
<rect x="103" y="364" width="685" height="4" fill="#000"/>
<rect x="103" y="373" width="685" height="4" fill="#000"/>
<rect x="103" y="382" width="685" height="4" fill="#000"/>
<rect x="103" y="391" width="685" height="4" fill="#000"/>
<rect x="103" y="400" width="685" height="4" fill="#000"/>
<rect x="103" y="409" width="685" height="4" fill="#000"/>
<rect x="103" y="418" width="685" height="4" fill="#000"/>
<rect x="103" y="427" width="685" height="4" fill="#000"/>
<rect x="103" y="437" width="685" height="4" fill="#000"/>
<rect x="103" y="445" width="685" height="4" fill="#000"/>
<rect x="103" y="455" width="685" height="4" fill="#000"/>
<rect x="103" y="318" width="2" height="1" fill="#808080"/>
<rect x="105" y="318" width="134" height="1" fill="#000"/>
<rect x="239" y="315" width="6" height="1" fill="#808080"/>
<rect x="239" y="316" width="6" height="3" fill="#000"/>
<rect x="245" y="318" width="129" height="1" fill="#000"/>
<rect x="374" y="316" width="6" height="1" fill="#808080"/>
<rect x="374" y="317" width="6" height="2" fill="#000"/>
<rect x="380" y="318" width="82" height="1" fill="#000"/>
<rect x="462" y="317" width="6" height="1" fill="#808080"/>
<rect x="462" y="318" width="6" height="1" fill="#000"/>
<rect x="468" y="318" width="6" height="1" fill="#000"/>
<rect x="474" y="317" width="6" height="1" fill="#808080"/>
<rect x="474" y="318" width="6" height="1" fill="#000"/>
<rect x="480" y="318" width="58" height="1" fill="#000"/>
<rect x="538" y="318" width="24" height="1" fill="#808080"/>
<rect x="562" y="318" width="11" height="1" fill="#000"/>
<rect x="573" y="318" width="12" height="1" fill="#808080"/>
<rect x="585" y="318" width="70" height="1" fill="#000"/>
<rect x="655" y="318" width="6" height="1" fill="#808080"/>
<rect x="661" y="318" width="127" height="1" fill="#000"/>
<rect x="103" y="327" width="136" height="1" fill="#000"/>
<rect x="239" y="324" width="6" height="2" fill="#808080"/>
<rect x="239" y="326" width="6" height="2" fill="#000"/>
<rect x="245" y="327" width="543" height="1" fill="#000"/>
<rect x="103" y="336" width="31" height="1" fill="#000"/>
<rect x="134" y="336" width="6" height="1" fill="#808080"/>
<rect x="140" y="336" width="6" height="1" fill="#000"/>
<rect x="146" y="336" width="5" height="1" fill="#808080"/>
<rect x="151" y="336" width="71" height="1" fill="#000"/>
<rect x="222" y="336" width="17" height="1" fill="#808080"/>
<rect x="239" y="334" width="6" height="3" fill="#000"/>
<rect x="245" y="336" width="41" height="1" fill="#000"/>
<rect x="286" y="336" width="6" height="1" fill="#808080"/>
<rect x="292" y="336" width="35" height="1" fill="#000"/>
<rect x="327" y="336" width="6" height="1" fill="#808080"/>
<rect x="333" y="336" width="24" height="1" fill="#000"/>
<rect x="357" y="336" width="5" height="1" fill="#808080"/>
<rect x="362" y="336" width="12" height="1" fill="#000"/>
<rect x="374" y="335" width="6" height="1" fill="#808080"/>
<rect x="374" y="336" width="6" height="1" fill="#000"/>
<rect x="380" y="336" width="135" height="1" fill="#000"/>
<rect x="515" y="336" width="6" height="1" fill="#808080"/>
<rect x="521" y="336" width="23" height="1" fill="#000"/>
<rect x="544" y="336" width="18" height="1" fill="#808080"/>
<rect x="562" y="336" width="35" height="1" fill="#000"/>
<rect x="597" y="336" width="17" height="1" fill="#808080"/>
<rect x="614" y="336" width="88" height="1" fill="#000"/>
<rect x="702" y="336" width="12" height="1" fill="#808080"/>
<rect x="714" y="336" width="35" height="1" fill="#000"/>
<rect x="749" y="336" width="6" height="1" fill="#808080"/>
<rect x="755" y="336" width="12" height="1" fill="#000"/>
<rect x="767" y="336" width="6" height="1" fill="#808080"/>
<rect x="773" y="336" width="6" height="1" fill="#000"/>
<rect x="779" y="336" width="5" height="1" fill="#808080"/>
<rect x="784" y="336" width="4" height="1" fill="#000"/>
<rect x="103" y="345" width="13" height="1" fill="#808080"/>
<rect x="116" y="345" width="12" height="1" fill="#000"/>
<rect x="128" y="345" width="35" height="1" fill="#808080"/>
<rect x="163" y="345" width="6" height="1" fill="#000"/>
<rect x="169" y="345" width="24" height="1" fill="#808080"/>
<rect x="193" y="345" width="29" height="1" fill="#000"/>
<rect x="222" y="345" width="17" height="1" fill="#808080"/>
<rect x="239" y="342" width="6" height="4" fill="#000"/>
<rect x="245" y="345" width="35" height="1" fill="#000"/>
<rect x="280" y="345" width="12" height="1" fill="#808080"/>
<rect x="292" y="345" width="35" height="1" fill="#000"/>
<rect x="327" y="345" width="6" height="1" fill="#808080"/>
<rect x="333" y="345" width="18" height="1" fill="#000"/>
<rect x="351" y="345" width="23" height="1" fill="#808080"/>
<rect x="374" y="342" width="6" height="1" fill="#808080"/>
<rect x="374" y="343" width="6" height="3" fill="#000"/>
<rect x="380" y="345" width="6" height="1" fill="#808080"/>
<rect x="386" y="345" width="35" height="1" fill="#000"/>
<rect x="421" y="345" width="12" height="1" fill="#808080"/>
<rect x="433" y="345" width="23" height="1" fill="#000"/>
<rect x="456" y="344" width="6" height="1" fill="#808080"/>
<rect x="456" y="345" width="6" height="1" fill="#000"/>
<rect x="462" y="345" width="47" height="1" fill="#000"/>
<rect x="509" y="345" width="12" height="1" fill="#808080"/>
<rect x="521" y="345" width="17" height="1" fill="#000"/>
<rect x="538" y="345" width="41" height="1" fill="#808080"/>
<rect x="579" y="345" width="18" height="1" fill="#000"/>
<rect x="597" y="345" width="17" height="1" fill="#808080"/>
<rect x="614" y="345" width="18" height="1" fill="#000"/>
<rect x="632" y="345" width="6" height="1" fill="#808080"/>
<rect x="638" y="345" width="6" height="1" fill="#000"/>
<rect x="644" y="345" width="17" height="1" fill="#808080"/>
<rect x="661" y="345" width="41" height="1" fill="#000"/>
<rect x="702" y="345" width="12" height="1" fill="#808080"/>
<rect x="714" y="345" width="35" height="1" fill="#000"/>
<rect x="749" y="345" width="6" height="1" fill="#808080"/>
<rect x="755" y="345" width="12" height="1" fill="#000"/>
<rect x="767" y="345" width="6" height="1" fill="#808080"/>
<rect x="773" y="345" width="6" height="1" fill="#000"/>
<rect x="779" y="345" width="5" height="1" fill="#808080"/>
<rect x="784" y="345" width="4" height="1" fill="#000"/>
<rect x="103" y="354" width="43" height="1" fill="#000"/>
<rect x="146" y="354" width="5" height="1" fill="#808080"/>
<rect x="151" y="354" width="83" height="1" fill="#000"/>
<rect x="234" y="354" width="5" height="1" fill="#808080"/>
<rect x="239" y="352" width="6" height="2" fill="#808080"/>
<rect x="239" y="354" width="6" height="1" fill="#000"/>
<rect x="245" y="354" width="41" height="1" fill="#000"/>
<rect x="286" y="354" width="6" height="1" fill="#808080"/>
<rect x="292" y="354" width="35" height="1" fill="#000"/>
<rect x="327" y="354" width="6" height="1" fill="#808080"/>
<rect x="333" y="354" width="29" height="1" fill="#000"/>
<rect x="362" y="354" width="12" height="1" fill="#808080"/>
<rect x="374" y="351" width="6" height="4" fill="#000"/>
<rect x="380" y="354" width="76" height="1" fill="#000"/>
<rect x="456" y="353" width="6" height="1" fill="#808080"/>
<rect x="456" y="354" width="6" height="1" fill="#000"/>
<rect x="462" y="354" width="53" height="1" fill="#000"/>
<rect x="515" y="354" width="53" height="1" fill="#808080"/>
<rect x="568" y="354" width="5" height="1" fill="#000"/>
<rect x="573" y="354" width="41" height="1" fill="#808080"/>
<rect x="614" y="354" width="41" height="1" fill="#000"/>
<rect x="655" y="354" width="6" height="1" fill="#808080"/>
<rect x="661" y="354" width="127" height="1" fill="#000"/>
<rect x="103" y="363" width="43" height="1" fill="#000"/>
<rect x="146" y="363" width="5" height="1" fill="#808080"/>
<rect x="151" y="363" width="71" height="1" fill="#000"/>
<rect x="222" y="361" width="6" height="2" fill="#808080"/>
<rect x="222" y="363" width="6" height="1" fill="#000"/>
<rect x="228" y="363" width="6" height="1" fill="#000"/>
<rect x="234" y="363" width="5" height="1" fill="#808080"/>
<rect x="239" y="361" width="6" height="3" fill="#000"/>
<rect x="245" y="363" width="41" height="1" fill="#000"/>
<rect x="286" y="363" width="6" height="1" fill="#808080"/>
<rect x="292" y="363" width="70" height="1" fill="#000"/>
<rect x="362" y="363" width="12" height="1" fill="#808080"/>
<rect x="374" y="361" width="6" height="1" fill="#808080"/>
<rect x="374" y="362" width="6" height="2" fill="#000"/>
<rect x="380" y="363" width="12" height="1" fill="#808080"/>
<rect x="392" y="363" width="35" height="1" fill="#000"/>
<rect x="427" y="363" width="6" height="1" fill="#808080"/>
<rect x="433" y="363" width="6" height="1" fill="#000"/>
<rect x="439" y="363" width="5" height="1" fill="#808080"/>
<rect x="444" y="362" width="6" height="1" fill="#808080"/>
<rect x="444" y="363" width="6" height="1" fill="#000"/>
<rect x="450" y="363" width="6" height="1" fill="#000"/>
<rect x="456" y="361" width="6" height="1" fill="#808080"/>
<rect x="456" y="362" width="6" height="2" fill="#000"/>
<rect x="462" y="363" width="12" height="1" fill="#000"/>
<rect x="474" y="361" width="6" height="3" fill="#000"/>
<rect x="480" y="363" width="17" height="1" fill="#000"/>
<rect x="497" y="363" width="117" height="1" fill="#808080"/>
<rect x="614" y="363" width="41" height="1" fill="#000"/>
<rect x="655" y="363" width="6" height="1" fill="#808080"/>
<rect x="661" y="363" width="41" height="1" fill="#000"/>
<rect x="702" y="363" width="12" height="1" fill="#808080"/>
<rect x="714" y="363" width="74" height="1" fill="#000"/>
<rect x="103" y="372" width="136" height="1" fill="#000"/>
<rect x="239" y="369" width="6" height="4" fill="#000"/>
<rect x="245" y="372" width="129" height="1" fill="#000"/>
<rect x="374" y="369" width="6" height="4" fill="#000"/>
<rect x="380" y="372" width="76" height="1" fill="#000"/>
<rect x="456" y="370" width="6" height="1" fill="#808080"/>
<rect x="456" y="371" width="6" height="2" fill="#000"/>
<rect x="462" y="372" width="12" height="1" fill="#000"/>
<rect x="474" y="370" width="6" height="3" fill="#000"/>
<rect x="480" y="372" width="6" height="1" fill="#000"/>
<rect x="486" y="370" width="5" height="3" fill="#000"/>
<rect x="491" y="372" width="135" height="1" fill="#000"/>
<rect x="626" y="371" width="6" height="1" fill="#808080"/>
<rect x="626" y="372" width="6" height="1" fill="#000"/>
<rect x="632" y="372" width="156" height="1" fill="#000"/>
<rect x="103" y="381" width="136" height="1" fill="#000"/>
<rect x="239" y="378" width="6" height="4" fill="#000"/>
<rect x="245" y="381" width="129" height="1" fill="#000"/>
<rect x="374" y="380" width="6" height="1" fill="#808080"/>
<rect x="374" y="381" width="6" height="1" fill="#000"/>
<rect x="380" y="381" width="59" height="1" fill="#000"/>
<rect x="439" y="381" width="5" height="1" fill="#808080"/>
<rect x="444" y="381" width="12" height="1" fill="#000"/>
<rect x="456" y="379" width="6" height="1" fill="#808080"/>
<rect x="456" y="380" width="6" height="2" fill="#000"/>
<rect x="462" y="381" width="12" height="1" fill="#000"/>
<rect x="474" y="379" width="6" height="3" fill="#000"/>
<rect x="480" y="381" width="41" height="1" fill="#000"/>
<rect x="521" y="381" width="6" height="1" fill="#808080"/>
<rect x="527" y="381" width="11" height="1" fill="#000"/>
<rect x="538" y="381" width="6" height="1" fill="#808080"/>
<rect x="544" y="381" width="29" height="1" fill="#000"/>
<rect x="573" y="381" width="12" height="1" fill="#808080"/>
<rect x="585" y="381" width="203" height="1" fill="#000"/>
<rect x="122" y="390" width="6" height="1" fill="#808080"/>
<rect x="140" y="390" width="6" height="1" fill="#808080"/>
<rect x="151" y="390" width="12" height="1" fill="#808080"/>
<rect x="234" y="390" width="5" height="1" fill="#808080"/>
<rect x="239" y="388" width="6" height="3" fill="#000"/>
<rect x="362" y="390" width="12" height="1" fill="#808080"/>
<rect x="374" y="389" width="18" height="1" fill="#808080"/>
<rect x="374" y="390" width="18" height="1" fill="#000"/>
<rect x="421" y="390" width="12" height="1" fill="#808080"/>
<rect x="444" y="390" width="6" height="1" fill="#000"/>
<rect x="450" y="390" width="6" height="1" fill="#808080"/>
<rect x="456" y="388" width="6" height="3" fill="#000"/>
<rect x="462" y="390" width="6" height="1" fill="#000"/>
<rect x="468" y="389" width="6" height="1" fill="#808080"/>
<rect x="468" y="390" width="6" height="1" fill="#000"/>
<rect x="474" y="388" width="6" height="3" fill="#000"/>
<rect x="480" y="390" width="23" height="1" fill="#000"/>
<rect x="667" y="390" width="6" height="1" fill="#808080"/>
<rect x="784" y="390" width="4" height="1" fill="#808080"/>
<rect x="239" y="397" width="6" height="3" fill="#000"/>
<rect x="374" y="398" width="6" height="1" fill="#808080"/>
<rect x="374" y="399" width="6" height="1" fill="#000"/>
<rect x="392" y="399" width="6" height="1" fill="#808080"/>
<rect x="398" y="399" width="29" height="1" fill="#000"/>
<rect x="427" y="398" width="6" height="2" fill="#000"/>
<rect x="433" y="399" width="17" height="1" fill="#000"/>
<rect x="450" y="398" width="6" height="2" fill="#000"/>
<rect x="456" y="396" width="6" height="4" fill="#000"/>
<rect x="462" y="399" width="12" height="1" fill="#000"/>
<rect x="474" y="397" width="6" height="3" fill="#000"/>
<rect x="480" y="399" width="23" height="1" fill="#000"/>
<rect x="503" y="398" width="6" height="1" fill="#808080"/>
<rect x="503" y="399" width="6" height="1" fill="#000"/>
<rect x="509" y="399" width="29" height="1" fill="#808080"/>
<rect x="103" y="408" width="2" height="1" fill="#000"/>
<rect x="105" y="407" width="5" height="1" fill="#808080"/>
<rect x="105" y="408" width="5" height="1" fill="#000"/>
<rect x="110" y="408" width="18" height="1" fill="#000"/>
<rect x="128" y="407" width="6" height="1" fill="#808080"/>
<rect x="128" y="408" width="6" height="1" fill="#000"/>
<rect x="134" y="407" width="12" height="2" fill="#000"/>
<rect x="146" y="408" width="5" height="1" fill="#000"/>
<rect x="151" y="407" width="6" height="2" fill="#000"/>
<rect x="157" y="408" width="6" height="1" fill="#000"/>
<rect x="163" y="407" width="6" height="2" fill="#000"/>
<rect x="169" y="408" width="12" height="1" fill="#000"/>
<rect x="181" y="407" width="6" height="2" fill="#000"/>
<rect x="187" y="408" width="6" height="1" fill="#000"/>
<rect x="193" y="407" width="23" height="2" fill="#000"/>
<rect x="216" y="408" width="6" height="1" fill="#000"/>
<rect x="222" y="407" width="17" height="2" fill="#000"/>
<rect x="239" y="406" width="6" height="3" fill="#000"/>
<rect x="245" y="407" width="12" height="1" fill="#808080"/>
<rect x="245" y="408" width="12" height="1" fill="#000"/>
<rect x="257" y="408" width="6" height="1" fill="#000"/>
<rect x="263" y="407" width="6" height="1" fill="#808080"/>
<rect x="263" y="408" width="6" height="1" fill="#000"/>
<rect x="269" y="408" width="6" height="1" fill="#000"/>
<rect x="275" y="407" width="5" height="2" fill="#000"/>
<rect x="280" y="407" width="6" height="1" fill="#808080"/>
<rect x="280" y="408" width="6" height="1" fill="#000"/>
<rect x="286" y="408" width="6" height="1" fill="#000"/>
<rect x="292" y="407" width="24" height="2" fill="#000"/>
<rect x="316" y="408" width="11" height="1" fill="#000"/>
<rect x="327" y="407" width="18" height="2" fill="#000"/>
<rect x="345" y="408" width="6" height="1" fill="#000"/>
<rect x="351" y="407" width="17" height="2" fill="#000"/>
<rect x="368" y="407" width="6" height="1" fill="#808080"/>
<rect x="368" y="408" width="6" height="1" fill="#000"/>
<rect x="374" y="407" width="82" height="2" fill="#000"/>
<rect x="456" y="405" width="6" height="4" fill="#000"/>
<rect x="462" y="407" width="12" height="2" fill="#000"/>
<rect x="474" y="406" width="6" height="3" fill="#000"/>
<rect x="480" y="407" width="29" height="2" fill="#000"/>
<rect x="509" y="408" width="6" height="1" fill="#000"/>
<rect x="515" y="407" width="6" height="2" fill="#000"/>
<rect x="521" y="408" width="6" height="1" fill="#000"/>
<rect x="527" y="407" width="11" height="2" fill="#000"/>
<rect x="538" y="408" width="6" height="1" fill="#000"/>
<rect x="544" y="407" width="6" height="2" fill="#000"/>
<rect x="550" y="408" width="6" height="1" fill="#000"/>
<rect x="556" y="407" width="29" height="2" fill="#000"/>
<rect x="585" y="408" width="6" height="1" fill="#000"/>
<rect x="591" y="407" width="6" height="2" fill="#000"/>
<rect x="597" y="408" width="6" height="1" fill="#000"/>
<rect x="603" y="407" width="11" height="2" fill="#000"/>
<rect x="614" y="408" width="6" height="1" fill="#000"/>
<rect x="620" y="407" width="12" height="2" fill="#000"/>
<rect x="632" y="407" width="6" height="1" fill="#808080"/>
<rect x="632" y="408" width="6" height="1" fill="#000"/>
<rect x="638" y="407" width="6" height="2" fill="#000"/>
<rect x="644" y="408" width="6" height="1" fill="#000"/>
<rect x="650" y="407" width="46" height="2" fill="#000"/>
<rect x="696" y="408" width="6" height="1" fill="#000"/>
<rect x="702" y="407" width="6" height="2" fill="#000"/>
<rect x="708" y="408" width="6" height="1" fill="#000"/>
<rect x="714" y="407" width="6" height="2" fill="#000"/>
<rect x="720" y="408" width="6" height="1" fill="#000"/>
<rect x="726" y="407" width="6" height="2" fill="#000"/>
<rect x="732" y="408" width="5" height="1" fill="#000"/>
<rect x="737" y="407" width="6" height="2" fill="#000"/>
<rect x="743" y="408" width="12" height="1" fill="#000"/>
<rect x="755" y="407" width="12" height="2" fill="#000"/>
<rect x="767" y="408" width="6" height="1" fill="#000"/>
<rect x="773" y="407" width="15" height="2" fill="#000"/>
<rect x="163" y="417" width="6" height="1" fill="#808080"/>
<rect x="193" y="417" width="5" height="1" fill="#808080"/>
<rect x="198" y="416" width="6" height="1" fill="#808080"/>
<rect x="198" y="417" width="6" height="1" fill="#000"/>
<rect x="222" y="417" width="6" height="1" fill="#808080"/>
<rect x="228" y="416" width="6" height="1" fill="#808080"/>
<rect x="228" y="417" width="6" height="1" fill="#000"/>
<rect x="234" y="417" width="5" height="1" fill="#808080"/>
<rect x="239" y="415" width="6" height="3" fill="#000"/>
<rect x="275" y="417" width="5" height="1" fill="#808080"/>
<rect x="298" y="416" width="6" height="2" fill="#000"/>
<rect x="304" y="416" width="6" height="1" fill="#808080"/>
<rect x="304" y="417" width="6" height="1" fill="#000"/>
<rect x="327" y="417" width="6" height="1" fill="#808080"/>
<rect x="357" y="417" width="5" height="1" fill="#808080"/>
<rect x="362" y="416" width="6" height="1" fill="#808080"/>
<rect x="362" y="417" width="6" height="1" fill="#000"/>
<rect x="368" y="416" width="6" height="2" fill="#000"/>
<rect x="374" y="417" width="6" height="1" fill="#000"/>
<rect x="386" y="416" width="6" height="2" fill="#000"/>
<rect x="392" y="416" width="6" height="1" fill="#808080"/>
<rect x="392" y="417" width="6" height="1" fill="#000"/>
<rect x="398" y="417" width="5" height="1" fill="#000"/>
<rect x="409" y="417" width="12" height="1" fill="#000"/>
<rect x="421" y="416" width="6" height="2" fill="#000"/>
<rect x="427" y="417" width="29" height="1" fill="#000"/>
<rect x="456" y="414" width="6" height="4" fill="#000"/>
<rect x="462" y="417" width="12" height="1" fill="#000"/>
<rect x="474" y="414" width="6" height="4" fill="#000"/>
<rect x="480" y="416" width="6" height="2" fill="#000"/>
<rect x="486" y="417" width="17" height="1" fill="#000"/>
<rect x="503" y="416" width="6" height="2" fill="#000"/>
<rect x="509" y="417" width="12" height="1" fill="#000"/>
<rect x="527" y="417" width="5" height="1" fill="#808080"/>
<rect x="556" y="417" width="17" height="1" fill="#808080"/>
<rect x="579" y="417" width="6" height="1" fill="#808080"/>
<rect x="620" y="417" width="6" height="1" fill="#808080"/>
<rect x="644" y="417" width="6" height="1" fill="#808080"/>
<rect x="655" y="417" width="6" height="1" fill="#808080"/>
<rect x="755" y="417" width="6" height="1" fill="#808080"/>
<rect x="773" y="417" width="6" height="1" fill="#808080"/>
<rect x="116" y="426" width="6" height="1" fill="#808080"/>
<rect x="151" y="425" width="6" height="1" fill="#808080"/>
<rect x="151" y="426" width="6" height="1" fill="#000"/>
<rect x="204" y="425" width="6" height="2" fill="#808080"/>
<rect x="222" y="423" width="6" height="4" fill="#000"/>
<rect x="239" y="424" width="6" height="1" fill="#808080"/>
<rect x="239" y="425" width="6" height="2" fill="#000"/>
<rect x="257" y="426" width="6" height="1" fill="#808080"/>
<rect x="269" y="426" width="11" height="1" fill="#808080"/>
<rect x="292" y="426" width="6" height="1" fill="#808080"/>
<rect x="304" y="426" width="6" height="1" fill="#808080"/>
<rect x="316" y="426" width="5" height="1" fill="#808080"/>
<rect x="327" y="426" width="12" height="1" fill="#808080"/>
<rect x="345" y="425" width="6" height="2" fill="#000"/>
<rect x="351" y="426" width="11" height="1" fill="#808080"/>
<rect x="362" y="425" width="6" height="2" fill="#000"/>
<rect x="374" y="423" width="6" height="4" fill="#000"/>
<rect x="380" y="426" width="6" height="1" fill="#808080"/>
<rect x="386" y="425" width="12" height="2" fill="#000"/>
<rect x="415" y="426" width="6" height="1" fill="#000"/>
<rect x="427" y="426" width="6" height="1" fill="#000"/>
<rect x="433" y="425" width="6" height="1" fill="#808080"/>
<rect x="433" y="426" width="6" height="1" fill="#000"/>
<rect x="439" y="426" width="11" height="1" fill="#000"/>
<rect x="450" y="425" width="6" height="2" fill="#000"/>
<rect x="456" y="423" width="6" height="4" fill="#000"/>
<rect x="462" y="425" width="12" height="2" fill="#000"/>
<rect x="474" y="423" width="6" height="4" fill="#000"/>
<rect x="480" y="424" width="6" height="1" fill="#808080"/>
<rect x="480" y="425" width="6" height="2" fill="#000"/>
<rect x="486" y="426" width="5" height="1" fill="#000"/>
<rect x="491" y="425" width="6" height="2" fill="#000"/>
<rect x="497" y="426" width="18" height="1" fill="#000"/>
<rect x="515" y="425" width="6" height="2" fill="#000"/>
<rect x="521" y="426" width="6" height="1" fill="#000"/>
<rect x="544" y="426" width="12" height="1" fill="#808080"/>
<rect x="591" y="425" width="6" height="1" fill="#808080"/>
<rect x="591" y="426" width="6" height="1" fill="#000"/>
<rect x="609" y="425" width="5" height="1" fill="#808080"/>
<rect x="609" y="426" width="5" height="1" fill="#000"/>
<rect x="620" y="425" width="6" height="1" fill="#808080"/>
<rect x="620" y="426" width="6" height="1" fill="#000"/>
<rect x="626" y="426" width="6" height="1" fill="#808080"/>
<rect x="702" y="426" width="12" height="1" fill="#808080"/>
<rect x="732" y="425" width="5" height="2" fill="#000"/>
<rect x="749" y="426" width="6" height="1" fill="#808080"/>
<rect x="773" y="426" width="6" height="1" fill="#808080"/>
<rect x="103" y="436" width="7" height="1" fill="#808080"/>
<rect x="122" y="436" width="6" height="1" fill="#808080"/>
<rect x="146" y="435" width="5" height="1" fill="#808080"/>
<rect x="146" y="436" width="5" height="1" fill="#000"/>
<rect x="163" y="436" width="6" height="1" fill="#808080"/>
<rect x="193" y="436" width="5" height="1" fill="#808080"/>
<rect x="204" y="436" width="6" height="1" fill="#000"/>
<rect x="210" y="435" width="6" height="2" fill="#000"/>
<rect x="222" y="436" width="6" height="1" fill="#808080"/>
<rect x="234" y="435" width="5" height="2" fill="#808080"/>
<rect x="239" y="434" width="6" height="3" fill="#000"/>
<rect x="257" y="436" width="6" height="1" fill="#808080"/>
<rect x="275" y="436" width="5" height="1" fill="#808080"/>
<rect x="286" y="435" width="6" height="2" fill="#000"/>
<rect x="292" y="436" width="6" height="1" fill="#000"/>
<rect x="298" y="436" width="6" height="1" fill="#808080"/>
<rect x="310" y="435" width="11" height="2" fill="#000"/>
<rect x="333" y="434" width="6" height="1" fill="#808080"/>
<rect x="333" y="435" width="6" height="2" fill="#000"/>
<rect x="339" y="435" width="6" height="1" fill="#808080"/>
<rect x="339" y="436" width="6" height="1" fill="#000"/>
<rect x="362" y="436" width="6" height="1" fill="#808080"/>
<rect x="368" y="434" width="6" height="1" fill="#808080"/>
<rect x="368" y="435" width="6" height="2" fill="#000"/>
<rect x="374" y="433" width="6" height="4" fill="#000"/>
<rect x="380" y="434" width="6" height="1" fill="#808080"/>
<rect x="380" y="435" width="6" height="2" fill="#000"/>
<rect x="386" y="435" width="6" height="2" fill="#000"/>
<rect x="392" y="436" width="11" height="1" fill="#000"/>
<rect x="403" y="435" width="6" height="2" fill="#000"/>
<rect x="409" y="436" width="18" height="1" fill="#000"/>
<rect x="427" y="435" width="6" height="1" fill="#808080"/>
<rect x="427" y="436" width="6" height="1" fill="#000"/>
<rect x="433" y="436" width="11" height="1" fill="#000"/>
<rect x="444" y="435" width="6" height="1" fill="#808080"/>
<rect x="444" y="436" width="6" height="1" fill="#000"/>
<rect x="450" y="435" width="6" height="2" fill="#000"/>
<rect x="456" y="433" width="6" height="4" fill="#000"/>
<rect x="462" y="434" width="12" height="3" fill="#000"/>
<rect x="474" y="433" width="6" height="4" fill="#000"/>
<rect x="480" y="434" width="6" height="3" fill="#000"/>
<rect x="486" y="435" width="11" height="2" fill="#000"/>
<rect x="497" y="436" width="6" height="1" fill="#000"/>
<rect x="503" y="435" width="6" height="2" fill="#000"/>
<rect x="509" y="434" width="6" height="1" fill="#808080"/>
<rect x="509" y="435" width="6" height="2" fill="#000"/>
<rect x="515" y="435" width="6" height="1" fill="#808080"/>
<rect x="515" y="436" width="6" height="1" fill="#000"/>
<rect x="544" y="434" width="6" height="1" fill="#808080"/>
<rect x="544" y="435" width="6" height="2" fill="#000"/>
<rect x="550" y="434" width="6" height="3" fill="#000"/>
<rect x="568" y="436" width="5" height="1" fill="#808080"/>
<rect x="573" y="435" width="6" height="2" fill="#000"/>
<rect x="579" y="436" width="6" height="1" fill="#000"/>
<rect x="591" y="436" width="6" height="1" fill="#808080"/>
<rect x="597" y="435" width="6" height="1" fill="#808080"/>
<rect x="597" y="436" width="6" height="1" fill="#000"/>
<rect x="614" y="434" width="6" height="3" fill="#000"/>
<rect x="620" y="435" width="6" height="2" fill="#000"/>
<rect x="626" y="433" width="6" height="1" fill="#808080"/>
<rect x="626" y="434" width="6" height="3" fill="#000"/>
<rect x="632" y="436" width="6" height="1" fill="#000"/>
<rect x="650" y="435" width="5" height="2" fill="#000"/>
<rect x="655" y="436" width="6" height="1" fill="#000"/>
<rect x="673" y="436" width="6" height="1" fill="#808080"/>
<rect x="696" y="435" width="6" height="1" fill="#808080"/>
<rect x="696" y="436" width="6" height="1" fill="#000"/>
<rect x="714" y="436" width="6" height="1" fill="#808080"/>
<rect x="732" y="436" width="5" height="1" fill="#808080"/>
<rect x="773" y="436" width="6" height="1" fill="#808080"/>
<rect x="103" y="443" width="2" height="1" fill="#808080"/>
<rect x="103" y="444" width="2" height="1" fill="#000"/>
<rect x="105" y="444" width="11" height="1" fill="#000"/>
<rect x="128" y="444" width="6" height="1" fill="#000"/>
<rect x="134" y="442" width="6" height="2" fill="#808080"/>
<rect x="134" y="444" width="6" height="1" fill="#000"/>
<rect x="140" y="444" width="11" height="1" fill="#000"/>
<rect x="151" y="442" width="6" height="2" fill="#808080"/>
<rect x="151" y="444" width="6" height="1" fill="#000"/>
<rect x="157" y="444" width="18" height="1" fill="#000"/>
<rect x="181" y="444" width="17" height="1" fill="#000"/>
<rect x="204" y="444" width="12" height="1" fill="#000"/>
<rect x="216" y="443" width="12" height="2" fill="#000"/>
<rect x="228" y="442" width="6" height="3" fill="#000"/>
<rect x="234" y="442" width="5" height="2" fill="#808080"/>
<rect x="234" y="444" width="5" height="1" fill="#000"/>
<rect x="239" y="442" width="6" height="3" fill="#000"/>
<rect x="245" y="444" width="6" height="1" fill="#000"/>
<rect x="251" y="442" width="12" height="1" fill="#808080"/>
<rect x="251" y="443" width="12" height="2" fill="#000"/>
<rect x="263" y="444" width="6" height="1" fill="#000"/>
<rect x="269" y="442" width="6" height="3" fill="#000"/>
<rect x="275" y="444" width="11" height="1" fill="#000"/>
<rect x="286" y="442" width="6" height="1" fill="#808080"/>
<rect x="286" y="443" width="6" height="2" fill="#000"/>
<rect x="292" y="442" width="6" height="3" fill="#000"/>
<rect x="298" y="444" width="6" height="1" fill="#000"/>
<rect x="304" y="442" width="6" height="3" fill="#000"/>
<rect x="316" y="444" width="5" height="1" fill="#000"/>
<rect x="321" y="443" width="6" height="2" fill="#000"/>
<rect x="333" y="443" width="6" height="2" fill="#000"/>
<rect x="339" y="444" width="6" height="1" fill="#000"/>
<rect x="345" y="443" width="6" height="1" fill="#808080"/>
<rect x="345" y="444" width="6" height="1" fill="#000"/>
<rect x="351" y="442" width="6" height="3" fill="#000"/>
<rect x="357" y="443" width="5" height="2" fill="#000"/>
<rect x="362" y="442" width="6" height="1" fill="#808080"/>
<rect x="362" y="443" width="6" height="2" fill="#000"/>
<rect x="368" y="443" width="6" height="2" fill="#000"/>
<rect x="374" y="442" width="6" height="3" fill="#000"/>
<rect x="380" y="444" width="6" height="1" fill="#000"/>
<rect x="386" y="442" width="6" height="1" fill="#808080"/>
<rect x="386" y="443" width="6" height="2" fill="#000"/>
<rect x="392" y="443" width="6" height="2" fill="#000"/>
<rect x="398" y="443" width="5" height="2" fill="#808080"/>
<rect x="403" y="444" width="12" height="1" fill="#000"/>
<rect x="415" y="442" width="6" height="1" fill="#808080"/>
<rect x="415" y="443" width="6" height="2" fill="#000"/>
<rect x="421" y="444" width="29" height="1" fill="#000"/>
<rect x="450" y="443" width="6" height="2" fill="#000"/>
<rect x="456" y="441" width="6" height="1" fill="#808080"/>
<rect x="456" y="442" width="6" height="3" fill="#000"/>
<rect x="462" y="442" width="12" height="3" fill="#000"/>
<rect x="474" y="441" width="6" height="1" fill="#808080"/>
<rect x="474" y="442" width="6" height="3" fill="#000"/>
<rect x="480" y="442" width="6" height="3" fill="#000"/>
<rect x="486" y="443" width="17" height="2" fill="#000"/>
<rect x="503" y="442" width="6" height="1" fill="#808080"/>
<rect x="503" y="443" width="6" height="2" fill="#000"/>
<rect x="509" y="442" width="6" height="3" fill="#000"/>
<rect x="538" y="442" width="6" height="3" fill="#000"/>
<rect x="544" y="444" width="12" height="1" fill="#000"/>
<rect x="556" y="442" width="6" height="3" fill="#000"/>
<rect x="562" y="444" width="6" height="1" fill="#000"/>
<rect x="568" y="442" width="5" height="3" fill="#000"/>
<rect x="573" y="444" width="12" height="1" fill="#000"/>
<rect x="585" y="443" width="6" height="2" fill="#000"/>
<rect x="591" y="444" width="12" height="1" fill="#000"/>
<rect x="638" y="443" width="6" height="2" fill="#000"/>
<rect x="673" y="443" width="6" height="2" fill="#000"/>
<rect x="696" y="443" width="6" height="1" fill="#808080"/>
<rect x="696" y="444" width="6" height="1" fill="#000"/>
<rect x="103" y="452" width="2" height="3" fill="#000"/>
<rect x="105" y="454" width="5" height="1" fill="#000"/>
<rect x="110" y="452" width="6" height="2" fill="#808080"/>
<rect x="110" y="454" width="6" height="1" fill="#000"/>
<rect x="116" y="454" width="12" height="1" fill="#000"/>
<rect x="128" y="453" width="6" height="2" fill="#000"/>
<rect x="134" y="454" width="12" height="1" fill="#000"/>
<rect x="146" y="452" width="5" height="1" fill="#808080"/>
<rect x="146" y="453" width="5" height="2" fill="#000"/>
<rect x="151" y="453" width="6" height="1" fill="#808080"/>
<rect x="151" y="454" width="6" height="1" fill="#000"/>
<rect x="157" y="452" width="12" height="1" fill="#808080"/>
<rect x="157" y="453" width="12" height="2" fill="#000"/>
<rect x="169" y="453" width="6" height="2" fill="#808080"/>
<rect x="175" y="452" width="6" height="1" fill="#808080"/>
<rect x="175" y="453" width="6" height="2" fill="#000"/>
<rect x="181" y="454" width="6" height="1" fill="#000"/>
<rect x="187" y="453" width="6" height="2" fill="#000"/>
<rect x="193" y="454" width="11" height="1" fill="#000"/>
<rect x="204" y="453" width="6" height="2" fill="#000"/>
<rect x="210" y="452" width="6" height="1" fill="#808080"/>
<rect x="210" y="453" width="6" height="2" fill="#000"/>
<rect x="216" y="453" width="6" height="2" fill="#808080"/>
<rect x="222" y="454" width="6" height="1" fill="#000"/>
<rect x="228" y="453" width="6" height="2" fill="#000"/>
<rect x="234" y="454" width="5" height="1" fill="#000"/>
<rect x="239" y="450" width="6" height="1" fill="#808080"/>
<rect x="239" y="451" width="6" height="4" fill="#000"/>
<rect x="245" y="452" width="6" height="1" fill="#808080"/>
<rect x="245" y="453" width="6" height="2" fill="#000"/>
<rect x="251" y="454" width="6" height="1" fill="#000"/>
<rect x="257" y="452" width="6" height="3" fill="#000"/>
<rect x="263" y="453" width="6" height="2" fill="#000"/>
<rect x="275" y="454" width="5" height="1" fill="#000"/>
<rect x="280" y="452" width="18" height="3" fill="#000"/>
<rect x="298" y="454" width="6" height="1" fill="#000"/>
<rect x="304" y="452" width="6" height="1" fill="#808080"/>
<rect x="304" y="453" width="6" height="2" fill="#000"/>
<rect x="310" y="453" width="6" height="2" fill="#000"/>
<rect x="316" y="454" width="5" height="1" fill="#000"/>
<rect x="321" y="452" width="6" height="1" fill="#808080"/>
<rect x="321" y="453" width="6" height="2" fill="#000"/>
<rect x="327" y="453" width="6" height="2" fill="#000"/>
<rect x="333" y="452" width="6" height="1" fill="#808080"/>
<rect x="333" y="453" width="6" height="2" fill="#000"/>
<rect x="339" y="454" width="6" height="1" fill="#000"/>
<rect x="345" y="453" width="6" height="2" fill="#000"/>
<rect x="351" y="454" width="6" height="1" fill="#000"/>
<rect x="357" y="453" width="5" height="2" fill="#000"/>
<rect x="362" y="454" width="6" height="1" fill="#000"/>
<rect x="368" y="452" width="6" height="1" fill="#808080"/>
<rect x="368" y="453" width="6" height="2" fill="#000"/>
<rect x="374" y="451" width="6" height="1" fill="#808080"/>
<rect x="374" y="452" width="6" height="3" fill="#000"/>
<rect x="380" y="454" width="6" height="1" fill="#000"/>
<rect x="386" y="453" width="17" height="2" fill="#000"/>
<rect x="403" y="454" width="6" height="1" fill="#000"/>
<rect x="409" y="453" width="6" height="2" fill="#000"/>
<rect x="415" y="452" width="12" height="1" fill="#808080"/>
<rect x="415" y="453" width="12" height="2" fill="#000"/>
<rect x="427" y="454" width="6" height="1" fill="#000"/>
<rect x="433" y="452" width="6" height="3" fill="#000"/>
<rect x="439" y="454" width="5" height="1" fill="#000"/>
<rect x="444" y="452" width="12" height="3" fill="#000"/>
<rect x="456" y="451" width="6" height="4" fill="#000"/>
<rect x="462" y="452" width="12" height="3" fill="#000"/>
<rect x="474" y="451" width="6" height="4" fill="#000"/>
<rect x="480" y="452" width="6" height="3" fill="#000"/>
<rect x="486" y="452" width="11" height="1" fill="#808080"/>
<rect x="486" y="453" width="11" height="2" fill="#000"/>
<rect x="497" y="453" width="6" height="2" fill="#000"/>
<rect x="503" y="452" width="6" height="1" fill="#808080"/>
<rect x="503" y="453" width="6" height="2" fill="#000"/>
<rect x="509" y="452" width="6" height="3" fill="#000"/>
<rect x="515" y="453" width="6" height="2" fill="#000"/>
<rect x="521" y="452" width="6" height="3" fill="#000"/>
<rect x="527" y="454" width="52" height="1" fill="#000"/>
<rect x="585" y="452" width="6" height="3" fill="#000"/>
<rect x="591" y="454" width="6" height="1" fill="#000"/>
<rect x="597" y="452" width="6" height="1" fill="#808080"/>
<rect x="597" y="453" width="6" height="2" fill="#000"/>
<rect x="609" y="454" width="5" height="1" fill="#000"/>
<rect x="614" y="452" width="6" height="3" fill="#000"/>
<rect x="620" y="453" width="6" height="1" fill="#808080"/>
<rect x="620" y="454" width="6" height="1" fill="#000"/>
<rect x="626" y="451" width="6" height="1" fill="#808080"/>
<rect x="626" y="452" width="6" height="3" fill="#000"/>
<rect x="632" y="453" width="6" height="2" fill="#000"/>
<rect x="644" y="453" width="6" height="1" fill="#808080"/>
<rect x="644" y="454" width="6" height="1" fill="#000"/>
<rect x="650" y="454" width="5" height="1" fill="#000"/>
<rect x="655" y="453" width="6" height="1" fill="#808080"/>
<rect x="655" y="454" width="6" height="1" fill="#000"/>
<rect x="661" y="454" width="6" height="1" fill="#000"/>
<rect x="667" y="453" width="6" height="1" fill="#808080"/>
<rect x="667" y="454" width="6" height="1" fill="#000"/>
<rect x="673" y="452" width="6" height="1" fill="#808080"/>
<rect x="673" y="453" width="6" height="2" fill="#000"/>
<rect x="685" y="454" width="6" height="1" fill="#808080"/>
<rect x="696" y="453" width="6" height="1" fill="#808080"/>
<rect x="696" y="454" width="6" height="1" fill="#000"/>
<rect x="702" y="454" width="6" height="1" fill="#000"/>
<rect x="720" y="454" width="23" height="1" fill="#000"/>
<rect x="749" y="454" width="6" height="1" fill="#000"/>
<rect x="755" y="453" width="6" height="2" fill="#000"/>
<rect x="767" y="454" width="6" height="1" fill="#000"/>
<rect x="784" y="454" width="4" height="1" fill="#000"/>
<rect x="822" y="302" width="1" height="168" fill="#000"/>
<rect x="822" y="333" width="13" height="1" fill="#000"/>
<rect x="822" y="365" width="13" height="1" fill="#000"/>
<rect x="822" y="397" width="13" height="1" fill="#000"/>
<rect x="822" y="429" width="13" height="1" fill="#000"/>
<rect x="822" y="461" width="13" height="1" fill="#000"/>
<rect x="822" y="317" width="7" height="1" fill="#000"/>
<rect x="822" y="349" width="7" height="1" fill="#000"/>
<rect x="822" y="381" width="7" height="1" fill="#000"/>
<rect x="822" y="413" width="7" height="1" fill="#000"/>
<rect x="822" y="445" width="7" height="1" fill="#000"/>
<text x="211.5" y="289.6" font-size="16.8" textLength="69.1" lengthAdjust="spacingAndGlyphs">Voyager</text>
<text x="286.4" y="289.6" font-size="16.8" textLength="9.1" lengthAdjust="spacingAndGlyphs">2</text>
<text x="302.1" y="289.6" font-size="16.8" textLength="38.0" lengthAdjust="spacingAndGlyphs">PWS</text>
<text x="345.4" y="289.6" font-size="16.8" textLength="21.0" lengthAdjust="spacingAndGlyphs">SA</text>
<text x="371.6" y="289.6" font-size="16.8" textLength="7.0" lengthAdjust="spacingAndGlyphs">-</text>
<text x="384.6" y="289.6" font-size="16.8" textLength="62.6" lengthAdjust="spacingAndGlyphs">Filtered</text>
<text x="453.4" y="289.6" font-size="16.8" textLength="53.7" lengthAdjust="spacingAndGlyphs">Hourly</text>
<text x="512.3" y="289.6" font-size="16.8" textLength="76.8" lengthAdjust="spacingAndGlyphs">Averages</text>
<text x="594.1" y="289.6" font-size="16.8" textLength="33.4" lengthAdjust="spacingAndGlyphs">and</text>
<text x="631.9" y="289.6" font-size="16.8" textLength="47.0" lengthAdjust="spacingAndGlyphs">Peaks</text>
<text x="51.6" y="468.7" font-size="16.8" textLength="21" lengthAdjust="spacingAndGlyphs">10</text>
<text x="72.4" y="460.6" font-size="16.0" textLength="10.8" lengthAdjust="spacingAndGlyphs">1</text>
<text x="51.6" y="431.7" font-size="16.8" textLength="21" lengthAdjust="spacingAndGlyphs">10</text>
<text x="72.4" y="423.6" font-size="16.0" textLength="10.8" lengthAdjust="spacingAndGlyphs">2</text>
<text x="51.6" y="395.7" font-size="16.8" textLength="21" lengthAdjust="spacingAndGlyphs">10</text>
<text x="72.4" y="387.6" font-size="16.0" textLength="10.8" lengthAdjust="spacingAndGlyphs">3</text>
<text x="51.6" y="359.7" font-size="16.8" textLength="21" lengthAdjust="spacingAndGlyphs">10</text>
<text x="72.4" y="351.6" font-size="16.0" textLength="10.8" lengthAdjust="spacingAndGlyphs">4</text>
<text x="51.6" y="322.7" font-size="16.8" textLength="21" lengthAdjust="spacingAndGlyphs">10</text>
<text x="72.4" y="314.6" font-size="16.0" textLength="10.8" lengthAdjust="spacingAndGlyphs">5</text>
<text x="114.3" y="504" font-size="16.8" textLength="100" lengthAdjust="spacingAndGlyphs">1989-08-23</text>
<text x="254.7" y="504" font-size="16.8" textLength="100" lengthAdjust="spacingAndGlyphs">1989-08-24</text>
<text x="395.1" y="504" font-size="16.8" textLength="100" lengthAdjust="spacingAndGlyphs">1989-08-25</text>
<text x="535.5" y="504" font-size="16.8" textLength="100" lengthAdjust="spacingAndGlyphs">1989-08-26</text>
<text x="675.9" y="504" font-size="16.8" textLength="100" lengthAdjust="spacingAndGlyphs">1989-08-27</text>
<text x="422.9" y="527.7" font-size="16.8" textLength="44.6" lengthAdjust="spacingAndGlyphs">SCET</text>
<text x="840.5" y="343.6" font-size="16.8" textLength="21" lengthAdjust="spacingAndGlyphs">10</text>
<text x="862.0" y="335.6" font-size="16.0" textLength="11" lengthAdjust="spacingAndGlyphs">0</text>
<text x="840.5" y="375.6" font-size="16.8" textLength="21" lengthAdjust="spacingAndGlyphs">10</text>
<text x="862.4" y="367.6" font-size="16.0" textLength="15.8" lengthAdjust="spacingAndGlyphs">-2</text>
<text x="840.5" y="407.6" font-size="16.8" textLength="21" lengthAdjust="spacingAndGlyphs">10</text>
<text x="862.4" y="399.6" font-size="16.0" textLength="15.8" lengthAdjust="spacingAndGlyphs">-4</text>
<text x="840.5" y="439.6" font-size="16.8" textLength="21" lengthAdjust="spacingAndGlyphs">10</text>
<text x="862.4" y="431.6" font-size="16.0" textLength="15.8" lengthAdjust="spacingAndGlyphs">-6</text>
<text x="840.5" y="471.6" font-size="16.8" textLength="21" lengthAdjust="spacingAndGlyphs">10</text>
<text x="862.4" y="463.6" font-size="16.0" textLength="15.8" lengthAdjust="spacingAndGlyphs">-8</text>
<text x="38.1" y="472.8" font-size="16.8" textLength="174" lengthAdjust="spacingAndGlyphs" transform="rotate(-90 38.1 472.8)">Channel Center (Hz)</text>
<text x="892.4" y="306.5" font-size="16.8" textLength="157" lengthAdjust="spacingAndGlyphs" transform="rotate(90 892.4 306.5)">Electric Field (V/m)</text>
</svg>
</body></html>
